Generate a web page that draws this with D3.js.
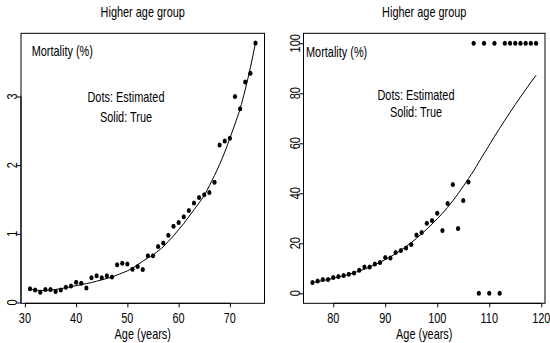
<!DOCTYPE html>
<html><head><meta charset="utf-8">
<script src="https://cdn.jsdelivr.net/npm/d3@7"></script>
<style>html,body{margin:0;padding:0;background:#fff;} svg{display:block;}</style>
</head><body><svg id="c" width="550" height="343"></svg>
<script>
// ---- data ----
const title = "Higher age group";
const yLabel = "Mortality (%)";
const xLabel = "Age (years)";
const noteLines = ["Dots: Estimated", "Solid: True"];

const agesA = [31,32,33,34,35,36,37,38,39,40,41,42,43,44,45,46,47,48,49,50,51,52,53,54,55,56,57,58,59,60,61,62,63,64,65,66,67,68,69,70,71,72,73,74,75];
const estimatedA = [0.20,0.18,0.15,0.19,0.19,0.16,0.18,0.22,0.24,0.295,0.28,0.21,0.36,0.39,0.36,0.39,0.37,0.55,0.57,0.56,0.485,0.525,0.48,0.68,0.68,0.815,0.865,0.98,1.11,1.165,1.25,1.34,1.45,1.53,1.57,1.60,1.75,2.295,2.35,2.39,3.0,2.82,3.21,3.34,3.78];
const trueA = [0.19,0.18,0.175,0.175,0.18,0.19,0.20,0.215,0.23,0.245,0.26,0.275,0.29,0.31,0.33,0.35,0.37,0.40,0.43,0.46,0.50,0.55,0.60,0.65,0.69,0.75,0.81,0.89,0.97,1.06,1.15,1.25,1.35,1.45,1.56,1.70,1.85,2.01,2.19,2.39,2.60,2.82,3.10,3.42,3.78];
const xTicksA = [30,40,50,60,70];
const yTicksA = [0,1,2,3];

const agesB = [76,77,78,79,80,81,82,83,84,85,86,87,88,89,90,91,92,93,94,95,96,97,98,99,100,101,102,103,104,105,106,107,108,109,110,111,112,113,114,115,116,117,118,119];
const estimatedB = [4.3,4.9,5.5,5.5,6.3,6.7,7.1,7.6,8.1,9.2,10.5,10.5,11.7,12.3,14.3,14.1,16.3,17.1,18.1,19.5,23.3,24.3,28.0,29.1,32.0,25.1,35.9,43.5,25.9,37.1,44.5,100,0,100,0,100,0,100,100,100,100,100,100,100];
const trueB = [4.3,4.7,5.1,5.5,6.0,6.5,7.0,7.6,8.2,8.9,9.7,10.5,11.4,12.4,13.5,14.6,15.9,17.2,18.7,20.3,22.0,23.8,25.7,27.7,29.8,32.0,34.4,37.0,39.8,42.8,45.9,49.0,52.5,55.9,59.3,62.7,66.0,69.2,72.4,75.5,78.5,81.5,84.4,87.2];
const xTicksB = [80,90,100,110,120];
const yTicksB = [0,20,40,60,80,100];

// ---- drawing ----
const svg = d3.select("#c");
const FONT = "'Liberation Sans', Arial, sans-serif";
const FS = 14, SX = 0.78;

function label(g, x, y, txt, anchor, rot) {
  g.append("text")
    .attr("transform", `translate(${x},${y})` + (rot ? ` rotate(${rot})` : "") + ` scale(${SX},1)`)
    .attr("text-anchor", anchor || "middle")
    .attr("dy", "0.36em")
    .attr("font-family", FONT).attr("font-size", FS).attr("fill", "#000")
    .text(txt);
}

const panels = [
  {ages: agesA, est: estimatedA, tru: trueA, xt: xTicksA, yt: yTicksA,
   box: [21, 264.5, 33.3, 303.3], xd: [29.24, 76.76], yd: [-0.012, 3.92],
   mort: [31.7, 51], note: [126, 96.5, 116.5]},
  {ages: agesB, est: estimatedB, tru: trueB, xt: xTicksB, yt: yTicksB,
   box: [303.5, 545, 33.3, 303.3], xd: [74.28, 120.72], yd: [-4, 104],
   mort: [306, 52], note: [416, 94.5, 112]}
];

panels.forEach(p => {
  const [bx0, bx1, by0, by1] = p.box;
  const x = d3.scaleLinear().domain(p.xd).range([bx0, bx1]);
  const y = d3.scaleLinear().domain(p.yd).range([by1, by0]);
  const g = svg.append("g");

  // box
  g.append("rect").attr("x", bx0).attr("y", by0).attr("width", bx1 - bx0).attr("height", by1 - by0)
    .attr("fill", "none").attr("stroke", "#000").attr("stroke-width", 1);

  // axes
  const ax = g.append("g").attr("transform", `translate(0,${by1})`)
    .call(d3.axisBottom(x).tickValues(p.xt).tickSize(4).tickSizeOuter(0).tickFormat(""));
  const ay = g.append("g").attr("transform", `translate(${bx0},0)`)
    .call(d3.axisLeft(y).tickValues(p.yt).tickSize(4).tickSizeOuter(0).tickFormat(""));
  [ax, ay].forEach(a => { a.select(".domain").remove(); a.selectAll("line").attr("stroke", "#000"); });
  g.append("line").attr("x1", x(p.xt[0])).attr("x2", x(p.xt[p.xt.length-1])).attr("y1", by1).attr("y2", by1).attr("stroke", "#000");
  g.append("line").attr("y1", y(p.yt[0])).attr("y2", y(p.yt[p.yt.length-1])).attr("x1", bx0).attr("x2", bx0).attr("stroke", "#000");

  p.xt.forEach(t => label(g, x(t), by1 + 14.7, String(t)));
  p.yt.forEach(t => label(g, bx0 - 8.8, y(t), String(t), "middle", -90));

  // labels
  label(g, (bx0 + bx1) / 2, 11.5, title);
  label(g, (bx0 + bx1) / 2, 333.6, xLabel);
  label(g, p.mort[0], p.mort[1], yLabel, "start");
  label(g, p.note[0], p.note[1], noteLines[0]);
  label(g, p.note[0], p.note[2], noteLines[1]);

  // true curve
  const line = d3.line().x((d, i) => x(p.ages[i])).y(d => y(d)).curve(d3.curveMonotoneX);
  g.append("path").datum(p.tru).attr("d", line).attr("fill", "none").attr("stroke", "#000").attr("stroke-width", 1);

  // estimated dots
  g.selectAll("ellipse.dot").data(p.est).enter().append("ellipse").attr("class", "dot")
    .attr("cx", (d, i) => x(p.ages[i])).attr("cy", d => y(d))
    .attr("rx", 2.1).attr("ry", 2.5).attr("fill", "#000");
});
</script></body></html>
